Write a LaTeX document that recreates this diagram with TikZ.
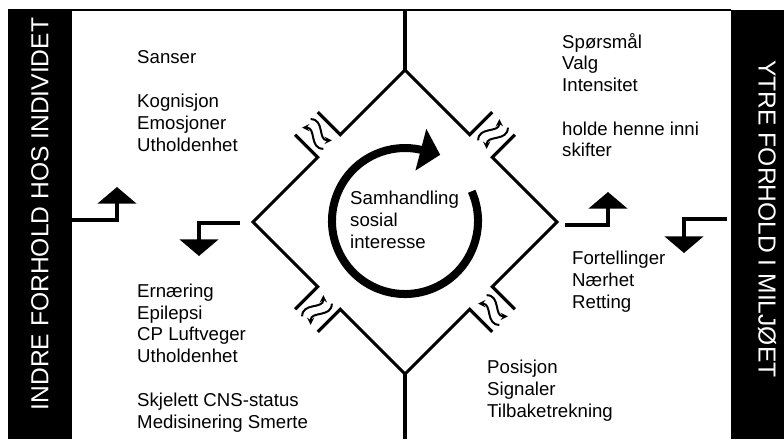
\documentclass[tikz,border=0pt]{standalone}
\usepackage{fontspec}
\setmainfont{Liberation Sans}
\usetikzlibrary{arrows,arrows.meta,positioning,calc}

\begin{document}
\begin{tikzpicture}[x=0.03cm, y=0.03cm,
    txt/.style={anchor=base west, align=left, inner sep=0pt,
      font=\fontsize{15.9}{18.6}\selectfont},
    sidetext/.style={text=white, inner sep=0pt, font=\fontsize{21}{24}\selectfont},
    rim/.style={line width=0.095cm, line join=miter},
    wave/.style={->, >=stealth, line width=0.06cm},
    flowarrow/.style={line width=0.12cm, -{Triangle[width=1.15cm, length=0.5cm]}}]
  \useasboundingbox (0,0) rectangle (784,439);
  % bands and frame
  \fill (8,0) rectangle (72,429);
  \fill (731,0) rectangle (784,429);
  \draw[line width=0.045cm] (8,429) -- (731,429);
  \node[sidetext, rotate=90] (In) at (40,225) {INDRE FORHOLD HOS INDIVIDET};
  \node[sidetext, rotate=-90] (Out) at (767,220) {YTRE FORHOLD I MILJØET};
  % diamond with open joints
  \coordinate (C) at (405,217);
  \coordinate (Top) at (405,369);
  \coordinate (Bot) at (405,65);
  \foreach \k in {0,1,2,3} {
    \begin{scope}[shift={(C)}, rotate=-90*\k]
      \draw[rim] (-87.3,109.9) -- (-64.7,87.3) -- (0,152) -- (64.7,87.3) -- (87.3,109.9);
      \begin{scope}[shift={(76,76)}, rotate=45]
        \draw[wave] (2,6) .. controls (12,16) and (22,-4) .. (32,6);
        \draw[wave] (32,-6) .. controls (22,-16) and (12,4) .. (2,-6);
      \end{scope}
    \end{scope}
  }
  \coordinate (TopEnd) at (405,429);
  \coordinate (BotEnd) at (405,0);
  \draw[rim] (Top) -- (TopEnd);
  \draw[rim] (Bot) -- (BotEnd);
  % step arrows
  \coordinate (Lu) at (72,219);
  \coordinate (LuTip) at (117,252);
  \coordinate (Ld) at (240,216);
  \coordinate (LdTip) at (199,183);
  \coordinate (Ru) at (565,214);
  \coordinate (RuTip) at (608,247);
  \coordinate (Rd) at (727,220);
  \coordinate (RdTip) at (684,186);
  \draw[flowarrow] (Lu) -| (LuTip);
  \draw[flowarrow] (Ld) -| (LdTip);
  \draw[flowarrow] (Ru) -| (RuTip);
  \draw[flowarrow] (Rd) -| (RdTip);
  % circular arrow
  \coordinate (O) at (405,218);
  \coordinate (Ostart) at ($(O)+(24:73)$);
  \coordinate (Oend) at ($(O)+(77:73)$);
  \coordinate (Otip) at ($(O)+(62:75)$);
  \draw[line width=0.24cm] (Ostart) arc[start angle=24, end angle=-283, radius=2.19cm];
  \draw[line width=0.24cm, -{Triangle[width=1.26cm, length=0.6cm]}] (Oend) -- (Otip);
  % texts
  \node[txt] (S) at (137,288) {Sanser\\[18.6pt]Kognisjon\\Emosjoner\\Utholdenhet};
  \node[txt] (Q) at (562,282) {Spørsmål\\Valg\\Intensitet\\[18.6pt]holde henne inni\\skifter};
  \node[txt] (F) at (572,131) {Fortellinger\\Nærhet\\Retting};
  \node[txt] (P) at (487,22) {Posisjon\\Signaler\\Tilbaketrekning};
  \node[txt] (E) at (137,11) {Ernæring\\Epilepsi\\CP Luftveger\\Utholdenhet\\[18.6pt]Skjelett CNS-status\\Medisinering Smerte};
  \node[txt] (Sh) at (350,191) {Samhandling\\sosial\\interesse};
\end{tikzpicture}
\end{document}
